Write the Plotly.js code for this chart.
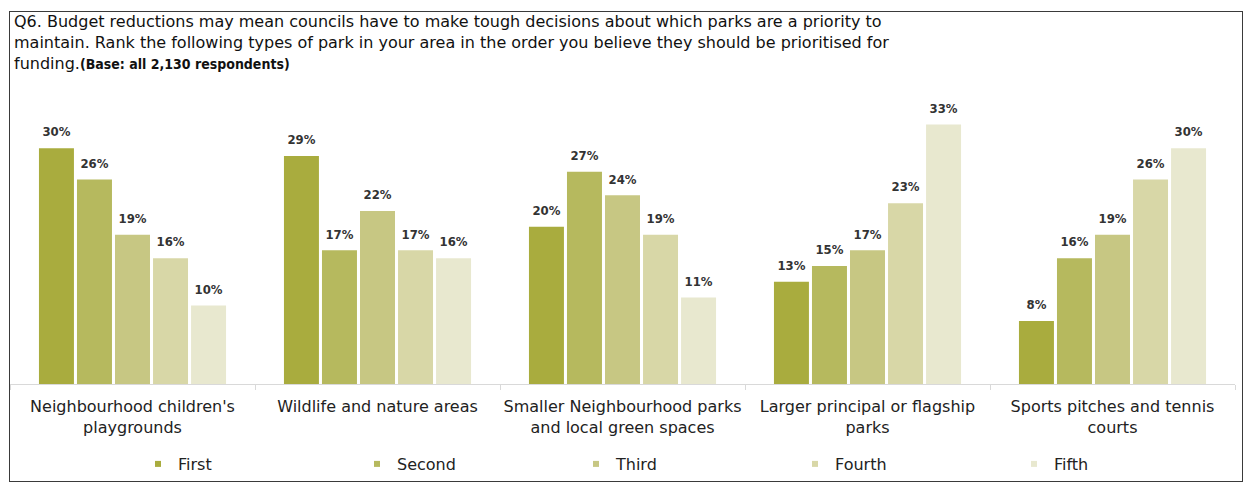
<!DOCTYPE html>
<html>
<head>
<meta charset="utf-8">
<script src="https://cdn.plot.ly/plotly-3.0.1.min.js"></script>
<style>
  html, body { margin: 0; padding: 0; background: #fff; }
  #chart { position: absolute; left: 0; top: 0; width: 1246px; height: 486px; }
  #frame { position: absolute; left: 9px; top: 11px; width: 1234px; height: 471px;
           border: 1px solid #3a3a3a; box-sizing: border-box; pointer-events: none; }
</style>
</head>
<body>
<div id="chart"></div>
<div id="frame"></div>
<script>
const categories = [
  "Neighbourhood children's<br>playgrounds",
  "Wildlife and nature areas",
  "Smaller Neighbourhood parks<br>and local green spaces",
  "Larger principal or flagship<br>parks",
  "Sports pitches and tennis<br>courts"
];
const seriesNames = ["First", "Second", "Third", "Fourth", "Fifth"];
const first  = [30, 29, 20, 13, 8];
const second = [26, 17, 27, 15, 16];
const third  = [19, 22, 24, 17, 19];
const fourth = [16, 17, 19, 23, 26];
const fifth  = [10, 16, 11, 33, 30];
const seriesValues = [first, second, third, fourth, fifth];
const colors = ["#A9AC3E", "#B6B95E", "#C7C783", "#D8D7A7", "#E8E8CF"];

const FONT = "'DejaVu Sans', sans-serif";
const FONT_C = "'DejaVu Sans Condensed', 'DejaVu Sans', sans-serif";

const traces = [];
// bars
seriesValues.forEach((vals, i) => {
  traces.push({
    type: 'bar',
    name: seriesNames[i],
    x: categories,
    y: vals,
    marker: { color: colors[i] },
    showlegend: false,
    hoverinfo: 'x+y'
  });
});
// value labels, grouped like the bars
seriesValues.forEach((vals, i) => {
  traces.push({
    type: 'scatter',
    mode: 'markers+text',
    name: seriesNames[i] + ' label',
    x: categories,
    y: vals,
    text: vals.map(v => v + '%'),
    textposition: 'top center',
    marker: { size: 12, color: 'rgba(0,0,0,0)' },
    textfont: { family: FONT_C, size: 13, color: '#333', weight: 'bold' },
    cliponaxis: false,
    showlegend: false,
    hoverinfo: 'skip'
  });
});
// legend entries (small square keys like the original)
seriesNames.forEach((n, i) => {
  traces.push({
    type: 'scatter', mode: 'markers', name: n,
    x: [null], y: [null], xaxis: 'x2', yaxis: 'y2',
    marker: { symbol: 'square', size: 6, color: colors[i] },
    showlegend: true, hoverinfo: 'skip'
  });
});

const layout = {
  width: 1246, height: 486,
  margin: { l: 10, r: 11, t: 101, b: 102 },
  paper_bgcolor: '#fff', plot_bgcolor: '#fff',
  font: { family: FONT, color: '#222' },
  title: {
    text: "Q6. Budget reductions may mean councils have to make tough decisions about which parks are a priority to<br>maintain. Rank the following types of park in your area in the order you believe they should be prioritised for<br>funding.<span style='font-family:DejaVu Sans Condensed;font-size:14px;font-weight:bold'>(Base: all 2,130 respondents)</span>",
    font: { family: FONT, size: 16, color: '#111' },
    x: 14 / 1246, xanchor: 'left', xref: 'container',
    y: 1 - 27 / 486, yanchor: 'top', yref: 'container'
  },
  barmode: 'group',
  bargap: 0.224,
  bargroupgap: 0.08,
  scattermode: 'group',
  scattergap: 0.224,
  xaxis: {
    type: 'category',
    showline: true, linecolor: '#d9d9d9', linewidth: 1,
    ticks: 'outside', tickson: 'boundaries', ticklen: 5, tickcolor: '#d9d9d9',
    tickangle: 0,
    tickfont: { family: FONT, size: 16, color: '#222' },
    ticklabelstandoff: 8,
    showgrid: false, zeroline: false, fixedrange: true
  },
  yaxis: { range: [0, 36], visible: false, fixedrange: true },
  xaxis2: { overlaying: 'x', visible: false },
  yaxis2: { overlaying: 'y', visible: false },
  legend: {
    orientation: 'h',
    x: 138 / 1246, xref: 'container', xanchor: 'left',
    y: (486 - 447) / 486, yref: 'container', yanchor: 'top',
    entrywidth: 174, entrywidthmode: 'pixels',
    font: { family: FONT, size: 16, color: '#222' },
    bgcolor: 'rgba(0,0,0,0)'
  },
  showlegend: true
};

Plotly.newPlot('chart', traces, layout, { displayModeBar: false, staticPlot: true });
</script>
</body>
</html>
